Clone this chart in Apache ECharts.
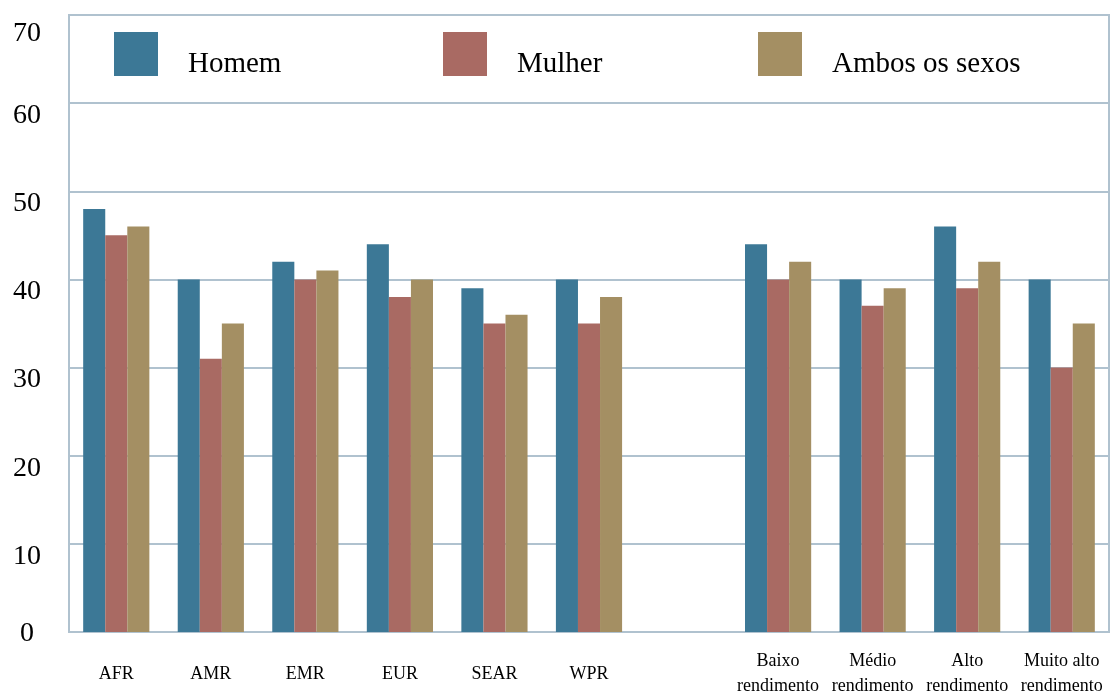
<!DOCTYPE html>
<html>
<head>
<meta charset="utf-8">
<script src="https://cdn.jsdelivr.net/npm/echarts@6/dist/echarts.min.js"></script>
<style>
html,body{margin:0;padding:0;background:#fff;}
#chart{width:1118px;height:697px;}
</style>
</head>
<body>
<div id="chart"></div>
<script>
const categories = ['AFR','AMR','EMR','EUR','SEAR','WPR','','Baixo\nrendimento','Médio\nrendimento','Alto\nrendimento','Muito alto\nrendimento'];
const homem = [48, 40, 42, 44, 39, 40, null, 44, 40, 46, 40];
const mulher = [45, 31, 40, 38, 35, 35, null, 40, 37, 39, 30];
const ambos = [46, 35, 41, 40, 36, 38, null, 42, 39, 42, 35];
const seriesNames = ['Homem', 'Mulher', 'Ambos os sexos'];
const yTicks = [0, 10, 20, 30, 40, 50, 60, 70];

const colors = ['#3c7896', '#a96a63', '#a48f63'];
const gridColor = '#b0c2cf';
const font = 'Liberation Serif, Times New Roman, serif';

const chart = echarts.init(document.getElementById('chart'));
const legendLefts = [114, 443, 758];
const legends = seriesNames.map((n, i) => ({
  data: [n],
  left: legendLefts[i],
  top: 32,
  padding: 0,
  icon: 'rect',
  itemWidth: 44,
  itemHeight: 44,
  itemGap: 0,
  itemStyle: { borderWidth: 0 },
  formatter: name => '{a|' + name + '}',
  textStyle: {
    fontFamily: font, fontSize: 29, color: '#000',
    rich: { a: { fontFamily: font, fontSize: 29, color: '#000', padding: [20, 0, 0, 25] } }
  },
  selectedMode: false
}));

chart.setOption({
  animation: false,
  color: colors,
  legend: legends,
  grid: {
    left: 69, right: 9, top: 15, bottom: 65,
    outerBoundsMode: 'none',
    show: true, borderColor: gridColor, borderWidth: 2
  },
  xAxis: {
    type: 'category',
    data: categories,
    axisTick: { show: false },
    axisLine: { lineStyle: { color: gridColor, width: 2 } },
    axisLabel: {
      interval: 0, fontFamily: font, fontSize: 18, color: '#000',
      lineHeight: 25, verticalAlign: 'middle', margin: 42
    }
  },
  yAxis: {
    type: 'value',
    min: yTicks[0], max: yTicks[yTicks.length - 1], interval: 10,
    axisLine: { show: true, lineStyle: { color: gridColor, width: 2 } },
    axisTick: { show: false },
    splitLine: { lineStyle: { color: gridColor, width: 2 } },
    axisLabel: {
      fontFamily: font, fontSize: 28, color: '#000', align: 'center', margin: 42,
      formatter: v => v === 0 ? '{z|0}' : (v === 70 ? '{t|70}' : '{n|' + v + '}'),
      rich: {
        z: { fontFamily: font, fontSize: 28, color: '#000', padding: [3, 0, 0, 0] },
        n: { fontFamily: font, fontSize: 28, color: '#000', padding: [25, 0, 0, 0] },
        t: { fontFamily: font, fontSize: 28, color: '#000', padding: [38, 0, 0, 0] }
      }
    }
  },
  series: [
    { name: seriesNames[0], type: 'bar', data: homem, barGap: '0%', barCategoryGap: '30%' },
    { name: seriesNames[1], type: 'bar', data: mulher, barGap: '0%', barCategoryGap: '30%' },
    { name: seriesNames[2], type: 'bar', data: ambos, barGap: '0%', barCategoryGap: '30%' }
  ]
});
</script>
</body>
</html>
